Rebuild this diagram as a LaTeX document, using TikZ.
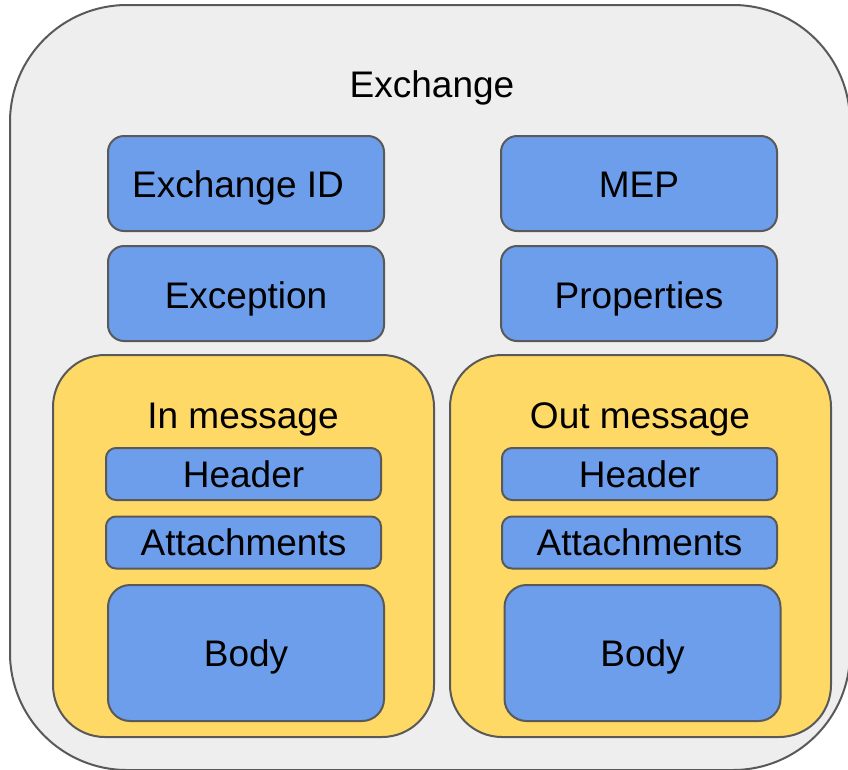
\documentclass[tikz,border=0pt]{standalone}
\usepackage{fontspec}
\setmainfont{Liberation Sans}

\definecolor{boxgrey}{HTML}{EEEEEE}
\definecolor{boxblue}{HTML}{6D9EEB}
\definecolor{boxyellow}{HTML}{FFD966}
\definecolor{boxline}{HTML}{595959}

\tikzstyle{outline}=[draw=boxline, line width=2pt, inner sep=0pt, text depth=0pt, font=\fontsize{37}{40}\selectfont]
\tikzstyle{container}=[outline, fill=boxgrey, rounded corners=117pt]
\tikzstyle{message}=[outline, fill=boxyellow, rounded corners=52pt, minimum width=381pt, minimum height=382pt]
\tikzstyle{field}=[outline, fill=boxblue, rounded corners=16pt, minimum width=276pt, minimum height=95pt]
\tikzstyle{slot}=[outline, fill=boxblue, rounded corners=10pt, minimum width=275pt, minimum height=52pt]
\tikzstyle{body}=[outline, fill=boxblue, rounded corners=22pt, minimum width=276pt, minimum height=136pt]
\tikzstyle{label}=[inner sep=0pt, text depth=0pt, font=\fontsize{37}{40}\selectfont]

\begin{document}
\begin{tikzpicture}[x=1pt, y=-1pt]
					\useasboundingbox (0,0) rectangle (848,769);
					\clip (0,0) rectangle (848,769);

					\coordinate (X) at (430,387.5);
					\coordinate (IN) at (243.5,546);
					\coordinate (OUT) at (640.5,546);

					\node[container, minimum width=840pt, minimum height=765pt] (exchange) at (X) {};
					\node[label] (exchangelabel) at (432,84.5) {Exchange};

					\node[field] (exchangeid) at (246,183.5) {};
					\node[label] at (238,184.5) {Exchange ID};
					\node[field] (mep) at (639,183.5) {};
					\node[label] at (639,184.5) {MEP};
					\node[field] (exception) at (246,293.5) {};
					\node[label] at (246,295.5) {Exception};
					\node[field] (properties) at (639,293.5) {};
					\node[label] at (639,295.5) {Properties};

					\node[message] (inmsg) at (IN) {};
					\node[label] (inlabel) at (243,415.5) {In message};
					\node[slot] (inheader) at (243.5,474) {Header};
					\node[slot] (inattach) at (243.5,542.5) {Attachments};
					\node[body] (inbody) at (246,653) {Body};

					\node[message] (outmsg) at (OUT) {};
					\node[label] (outlabel) at (640,415.5) {Out message};
					\node[slot] (outheader) at (639.5,474) {Header};
					\node[slot] (outattach) at (639.5,542.5) {Attachments};
					\node[body] (outbody) at (642.5,653) {Body};
				\end{tikzpicture}
\end{document}
